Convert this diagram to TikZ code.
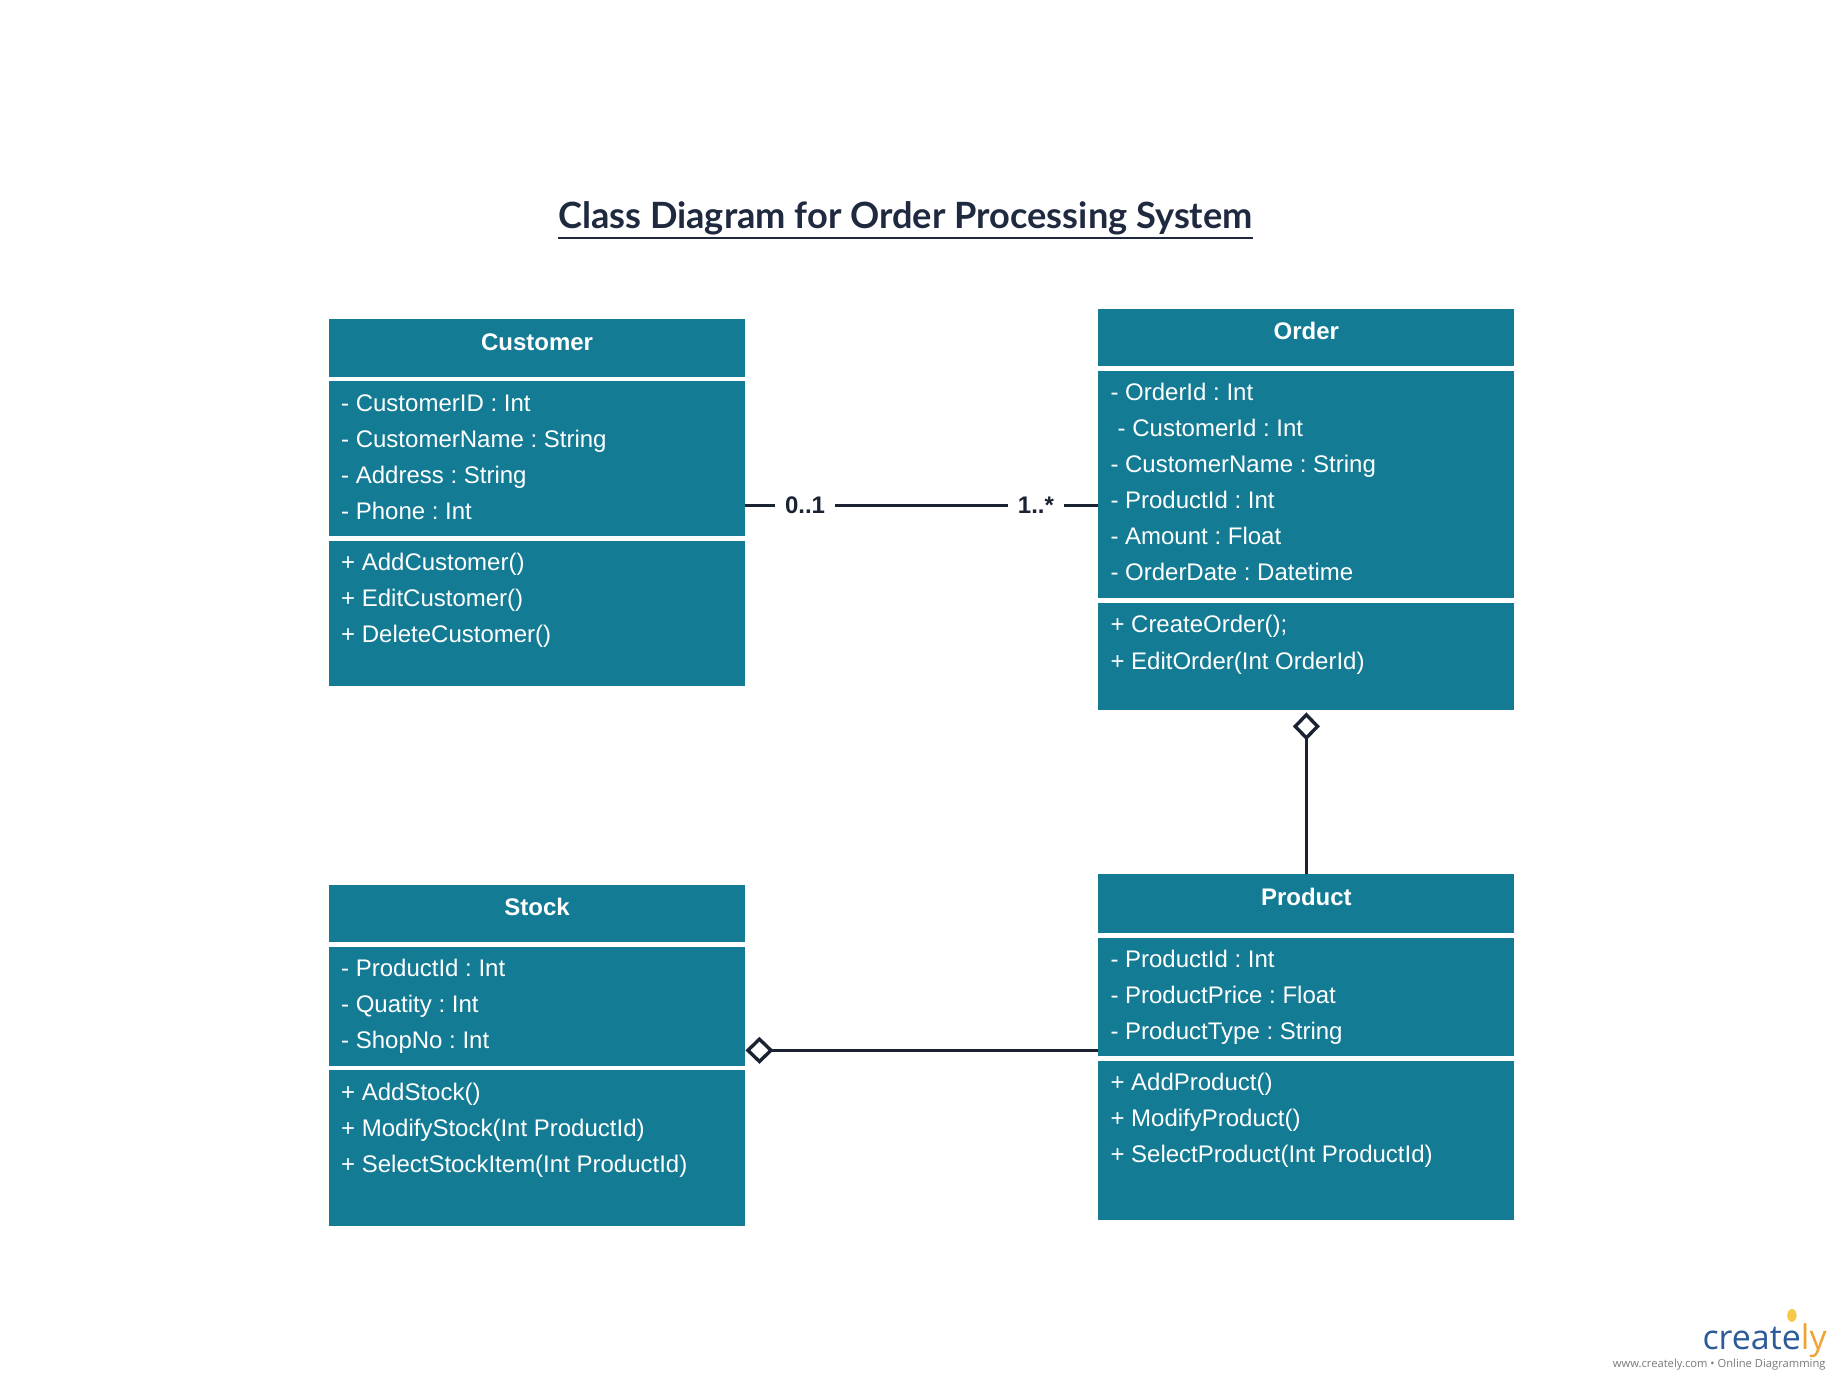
\documentclass[tikz,border=0pt]{standalone}
\usepackage{fontspec}
\setmainfont{Liberation Sans}
\newfontfamily\titlefont{Lato}
\newfontfamily\logofont{Open Sans}
\usetikzlibrary{arrows.meta,fit,calc}
\frenchspacing
\definecolor{teal1}{HTML}{137B94}
\definecolor{ink}{HTML}{1B2333}
\definecolor{titleink}{HTML}{1F2940}
\definecolor{logoblue}{HTML}{2D5A98}
\definecolor{logoorange}{HTML}{F0A232}
\definecolor{bulb}{HTML}{F7C948}
\definecolor{urlgray}{HTML}{7A7A7A}
\tikzset{
  compart/.style={fill=teal1, draw=none},
  clstitle/.style={font=\bfseries\fontsize{12}{14}\selectfont, text=white, anchor=base, inner sep=0},
  member/.style={font=\fontsize{12}{14}\selectfont, text=white, anchor=base west, inner sep=0},
  conn/.style={draw=ink, line width=1.7pt},
  mult/.style={font=\bfseries\fontsize{12}{14}\selectfont, text=ink, fill=white, inner xsep=5pt, inner ysep=2pt},
  aggtip/.style={-{Diamond[open,length=14pt,width=13.5pt]}},
  aggstart/.style={{Diamond[open,length=14pt,width=13.5pt]}-}
}
% #1 name, #2 left, #3 top, #4 header bottom, #5 attrs bottom, #6 bottom, #7 title, #8 attrs, #9 methods
\newcommand\umlclass[9]{%
  \pgfmathsetmacro\umlR{#2+354.5}%
  \pgfmathsetmacro\umlA{#4+4}%
  \pgfmathsetmacro\umlM{#5+4}%
  \pgfmathsetmacro\umlC{#2+177.25}%
  \pgfmathsetmacro\umlTB{#3+26.5}%
  \pgfmathsetmacro\umlX{#2+10}%
  \fill[compart] (#2,#3) rectangle (\umlR,#4);
  \fill[compart] (#2,\umlA) rectangle (\umlR,#5);
  \fill[compart] (#2,\umlM) rectangle (\umlR,#6);
  \node[fit={(#2,#3) (\umlR,#6)}, inner sep=0] (#1) {};
  \node[clstitle] (#1-title) at (\umlC,\umlTB) {#7};
  \foreach [count=\i] \t in {#8} \node[member] (#1-a\i) at (\umlX,{\umlA+25.4+(\i-1)*30.7}) {\t};
  \foreach [count=\i] \t in {#9} \node[member] (#1-m\i) at (\umlX,{\umlM+25.4+(\i-1)*30.7}) {\t};
}
\begin{document}
\begin{tikzpicture}[x=0.58673pt, y=-0.58673pt]
\useasboundingbox[fill=white] (0,0) rectangle (1568,1176);

\node[font=\titlefont\bfseries\fontsize{18.1}{22}\selectfont, text=titleink, anchor=base, inner sep=0] (title) at (771.5,195) {Class Diagram for Order Processing System};
\draw[titleink, line width=1.2pt] ($(title.base west)+(0,8)$) -- ($(title.base east)+(0,8)$);

\umlclass{customer}{280.4}{272}{321}{457}{585}{Customer}%
  {- CustomerID : Int, - CustomerName : String, - Address : String, - Phone : Int}%
  {+ AddCustomer(), + EditCustomer(), + DeleteCustomer()}

\umlclass{order}{936}{263}{312}{510}{605}{Order}%
  {- OrderId : Int, {\hspace{0.3em}- CustomerId : Int}, - CustomerName : String, - ProductId : Int, - Amount : Float, - OrderDate : Datetime}%
  {+ CreateOrder();, + EditOrder(Int OrderId)}

\umlclass{stock}{280.4}{754}{803}{908}{1045}{Stock}%
  {- ProductId : Int, - Quatity : Int, - ShopNo : Int}%
  {+ AddStock(), + ModifyStock(Int ProductId), + SelectStockItem(Int ProductId)}

\umlclass{product}{936}{745}{795}{900}{1040}{Product}%
  {- ProductId : Int, - ProductPrice : Float, - ProductType : String}%
  {+ AddProduct(), + ModifyProduct(), + SelectProduct(Int ProductId)}

\draw[conn] ([yshift=-1.2pt]customer.east) -- node[mult, pos=0.169] (m01) {0..1} node[mult, pos=0.824] (m1n) {1..*} ([yshift=-1.2pt]customer.east -| order.west);
\draw[conn, aggstart] ([yshift=-1pt]order.south) -- (product.north);
\draw[conn, aggtip] ([yshift=-1.5pt]product.west) -- ([yshift=-1.5pt]product.west -| stock.east);

\fill[bulb] (1527,1121) ellipse (4 and 5.5);
\node[font=\logofont\fontsize{17}{20}\selectfont, anchor=base east, inner sep=0] (logo) at (1557,1150) {\textcolor{logoblue}{create}\textcolor{logoorange}{ly}};
\node[font=\logofont\fontsize{5.6}{7}\selectfont, text=urlgray, anchor=base east, inner sep=0] (url) at (1556,1165) {www.creately.com • Online Diagramming};
\end{tikzpicture}
\end{document}
